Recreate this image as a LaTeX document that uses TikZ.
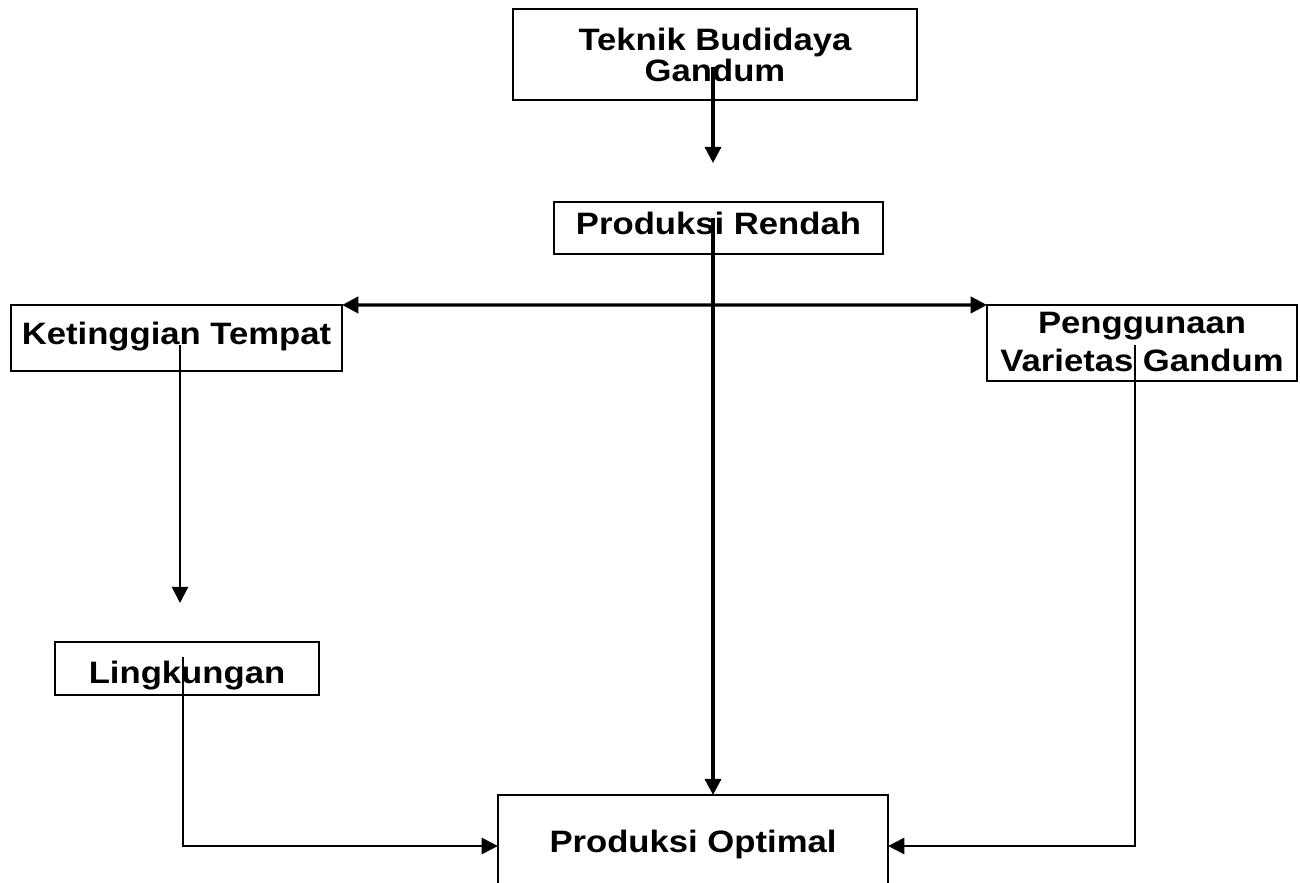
\documentclass[tikz,border=0pt]{standalone}
\usepackage{fontspec}
\setmainfont{Liberation Sans}
\usepackage{graphicx}
\usetikzlibrary{arrows.meta}
\newcommand{\teks}{\fontsize{8.8}{8.5}\selectfont\bfseries}
\newcommand{\lebar}[2][0pt]{\raisebox{#1}[\height][\depth]{\scalebox{1.12}[1]{\begin{tabular}{@{}c@{}}#2\end{tabular}}}}

\begin{document}
\begin{tikzpicture}[
		x=0.01cm, y=-0.01cm,
		%Option for arrows
		>={Triangle[length=4.6pt, width=4.6pt]}, %
		inner sep=0pt, outer sep=0pt,%
		kotak/.style={draw, line width=0.6pt, font=\teks},
		alur/.style={line width=0.6pt, ->},
		alurtebal/.style={line width=0.95pt, ->},
	]
		\useasboundingbox (0, 0) rectangle (1300, 883);

		% Boxes
		\node[kotak, minimum width=4.04cm, minimum height=0.91cm] (teknik) at (715, 54.5)
			{\lebar[-1.4pt]{Teknik Budidaya\\Gandum}};
		\node[kotak, minimum width=3.29cm, minimum height=0.52cm] (rendah) at (718.5, 228)
			{\lebar{Produksi Rendah}};
		\node[kotak, minimum width=3.31cm, minimum height=0.66cm] (ketinggian) at (176.5, 338)
			{\lebar{Ketinggian Tempat}};
		\node[kotak, minimum width=3.10cm, minimum height=0.76cm] (varietas) at (1142, 343)
			{\lebar[-0.9pt]{Penggunaan\\[2pt]Varietas Gandum}};
		\node[kotak, minimum width=2.64cm, minimum height=0.53cm] (lingkungan) at (187, 668.5)
			{\lebar[-2.3pt]{Lingkungan}};
		\node[kotak, minimum width=3.90cm, minimum height=1.02cm] (optimal) at (693, 846)
			{\lebar{Produksi Optimal}};

		% Free ends
		\coordinate (teknikawal) at (713, 67);
		\coordinate (teknikujung) at (713, 163);
		\coordinate (pusat) at (713, 218);
		\coordinate (kiriawal) at (180, 345);
		\coordinate (kiriujung) at (180, 603);
		\coordinate (lingawal) at (183, 657);
		\coordinate (kananawal) at (1135, 345);

		% Connectors
		\draw[alurtebal] (teknikawal) -- (teknikujung);
		\draw[alurtebal] (pusat) -- (pusat |- optimal.north);
		\draw[alurtebal, <->] (ketinggian.north east) -- (varietas.north west);
		\draw[alur] (kiriawal) -- (kiriujung);
		\draw[alur] (lingawal) |- (optimal.west);
		\draw[alur] (kananawal) |- (optimal.east);
	\end{tikzpicture}
\end{document}
